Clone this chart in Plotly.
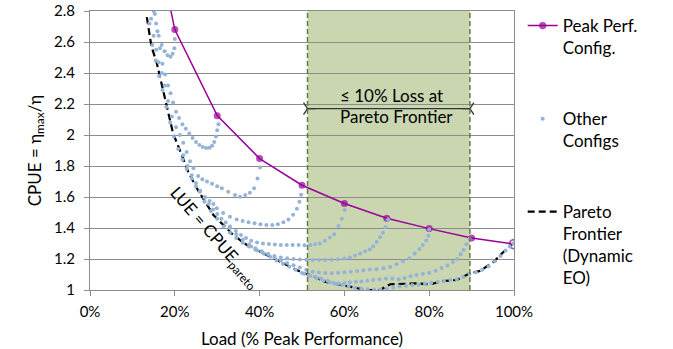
import plotly.graph_objects as go

# ---------------- data ----------------
tick_vals = [0, 20, 40, 60, 80, 100]
tick_text = ["0%", "20%", "40%", "60%", "80%", "100%"]

peak_x = [10, 20, 30, 40, 50, 60, 70, 80, 90, 100]
peak_y = [4.0, 2.68, 2.125, 1.848, 1.676, 1.558, 1.463, 1.396, 1.335, 1.296]

pareto_x = [13.4, 14.5, 15.7, 17.7, 19.6, 21.8, 23.2, 25.2, 29.1, 33.8, 37.0, 41.7,
            46.4, 50.3, 51.9, 55.4, 59.7, 65.2, 68.4, 70.8, 77.0, 80.2, 83.3, 86.5,
            89.6, 92.0, 95.1, 97.5, 99.8]
pareto_y = [2.76, 2.57, 2.47, 2.226, 2.01, 1.86, 1.76, 1.656, 1.484, 1.355, 1.29, 1.226,
            1.161, 1.108, 1.097, 1.054, 1.03, 1.0, 1.0, 1.037, 1.043, 1.037, 1.058, 1.065,
            1.108, 1.123, 1.18, 1.245, 1.30]

c1_x = [15.0, 15.6, 16.2, 16.9, 17.6, 18.3, 19.0, 19.5, 19.9, 20.0]
c1_y = [2.80, 2.72, 2.64, 2.58, 2.54, 2.515, 2.505, 2.525, 2.56, 2.62]

c2_x = [15.3, 15.9, 16.5, 17.1, 17.7, 18.4, 19.0, 19.6, 20.3, 21.0, 21.8, 22.6, 23.4,
        24.2, 25.0, 25.8, 26.6, 27.4, 28.2, 28.8, 29.3, 29.7, 30.0, 30.3]
c2_y = [2.78, 2.67, 2.56, 2.46, 2.39, 2.32, 2.27, 2.21, 2.15, 2.11, 2.07, 2.04, 2.01,
        1.98, 1.955, 1.935, 1.922, 1.916, 1.918, 1.93, 1.955, 1.99, 2.03, 2.07]

c3_x = [14.4, 15.0, 15.6, 16.2, 16.9, 17.6, 18.4, 19.3, 20.3, 21.2, 22.0, 22.8, 23.6,
        24.4, 25.5, 26.5, 27.6, 28.8, 30.0, 31.1, 32.6, 34.2, 35.4, 36.6, 37.7, 38.7,
        39.5, 40.1]
c3_y = [2.75, 2.64, 2.55, 2.47, 2.40, 2.32, 2.22, 2.12, 2.05, 2.00, 1.95, 1.89, 1.83,
        1.785, 1.735, 1.715, 1.70, 1.685, 1.67, 1.656, 1.634, 1.613, 1.602, 1.613, 1.628,
        1.656, 1.72, 1.79]

c4_x = [14.0, 14.7, 15.5, 16.3, 17.1, 18.0, 18.9, 19.8, 20.8, 21.8, 22.8, 24.0, 25.0,
        25.9, 27.1, 28.2, 29.1, 29.9, 31.4, 33.0, 34.6, 36.0, 37.4, 38.8, 40.2, 41.6,
        43.0, 44.3, 45.6, 46.8, 47.9, 48.8, 49.4, 49.8]
c4_y = [2.72, 2.58, 2.48, 2.38, 2.29, 2.18, 2.08, 1.99, 1.91, 1.84, 1.78, 1.72, 1.67,
        1.634, 1.60, 1.575, 1.555, 1.527, 1.497, 1.473, 1.455, 1.445, 1.437, 1.43, 1.424,
        1.42, 1.42, 1.425, 1.437, 1.455, 1.485, 1.525, 1.57, 1.615]

c5_x = [22.0, 23.0, 24.0, 25.0, 26.0, 27.0, 28.0, 29.0, 30.0, 31.0, 32.0, 33.0, 34.4,
        35.6, 36.8, 38.0, 39.4, 40.8, 42.2, 43.6, 45.0, 46.4, 47.8, 49.2, 50.6, 52.0,
        53.1, 54.2, 55.4, 56.6, 57.6, 58.6, 59.4, 60.1]
c5_y = [1.87, 1.80, 1.74, 1.69, 1.64, 1.595, 1.555, 1.52, 1.49, 1.46, 1.435, 1.41, 1.38,
        1.355, 1.335, 1.318, 1.306, 1.30, 1.296, 1.293, 1.291, 1.29, 1.29, 1.29, 1.289,
        1.29, 1.295, 1.30, 1.318, 1.338, 1.36, 1.413, 1.46, 1.516]

c6_x = [27.0, 28.5, 30.0, 31.5, 33.0, 34.5, 36.0, 37.5, 39.0, 40.5, 42.0, 43.5, 45.0,
        46.5, 48.0, 49.5, 51.0, 52.5, 54.0, 55.5, 57.0, 58.5, 60.0, 61.3, 62.5, 63.7,
        64.9, 66.0, 66.8, 67.6, 68.4, 69.1, 69.7, 70.3]
c6_y = [1.57, 1.51, 1.46, 1.41, 1.37, 1.335, 1.305, 1.28, 1.26, 1.245, 1.232, 1.22, 1.21,
        1.205, 1.20, 1.197, 1.195, 1.194, 1.194, 1.194, 1.195, 1.198, 1.203, 1.21, 1.222,
        1.236, 1.25, 1.262, 1.28, 1.31, 1.34, 1.37, 1.405, 1.455]

c7_x = [33.0, 34.5, 36.0, 37.5, 39.0, 40.5, 42.0, 43.5, 45.0, 46.5, 48.0, 49.5, 51.0,
        52.5, 54.0, 55.5, 57.0, 58.5, 60.0, 61.5, 63.0, 64.5, 66.0, 67.6, 69.2, 70.8,
        72.3, 73.8, 75.3, 76.6, 77.7, 78.5, 79.3, 79.8, 80.0]
c7_y = [1.40, 1.36, 1.325, 1.295, 1.27, 1.25, 1.23, 1.21, 1.19, 1.175, 1.16, 1.145, 1.13,
        1.118, 1.113, 1.11, 1.108, 1.112, 1.115, 1.118, 1.122, 1.127, 1.132, 1.134, 1.14,
        1.148, 1.166, 1.185, 1.205, 1.235, 1.265, 1.29, 1.32, 1.35, 1.39]

c8_x = [38.0, 39.5, 41.0, 42.5, 44.0, 45.5, 47.0, 48.5, 50.0, 51.5, 53.1, 54.5, 56.0,
        57.4, 58.7, 60.0, 61.3, 62.7, 64.0, 65.4, 66.8, 68.3, 69.8, 71.3, 72.8, 74.2,
        75.6, 77.0, 78.5, 80.0, 81.5, 82.9, 84.3, 85.6, 86.6, 87.4, 88.1, 88.8, 89.5]
c8_y = [1.28, 1.255, 1.235, 1.215, 1.19, 1.17, 1.15, 1.13, 1.11, 1.095, 1.085, 1.075,
        1.06, 1.045, 1.042, 1.045, 1.05, 1.054, 1.055, 1.06, 1.065, 1.07, 1.074, 1.074,
        1.07, 1.078, 1.088, 1.097, 1.105, 1.112, 1.125, 1.142, 1.158, 1.18, 1.20, 1.23,
        1.26, 1.295, 1.33]

c9_x = [50.5, 52.0, 53.5, 55.0, 56.5, 58.0, 59.5, 61.0, 62.5, 64.0, 65.5, 67.0, 68.5,
        70.0, 71.5, 73.0, 74.5, 76.0, 77.5, 79.0, 80.5, 82.0, 83.5, 85.0, 86.5, 88.0,
        89.5, 91.0, 92.5, 94.0, 95.5, 96.8, 98.0, 99.0, 99.8]
c9_y = [1.105, 1.09, 1.075, 1.062, 1.05, 1.04, 1.032, 1.022, 1.015, 1.01, 1.005, 1.003,
        1.004, 1.007, 1.015, 1.022, 1.028, 1.032, 1.034, 1.04, 1.046, 1.054, 1.058, 1.064,
        1.07, 1.084, 1.103, 1.115, 1.13, 1.153, 1.185, 1.22, 1.255, 1.28, 1.30]

band_lo, band_hi = 51.3, 89.6
arrow_y = 2.17

# ---------------- figure ----------------
FONT = "Lato"
PURPLE = "#990099"
BLUE = "#95B3D7"
GRID = "#8c8c8c"

others_x = c1_x + c2_x + c3_x + c4_x + c5_x + c6_x + c7_x + c8_x + c9_x
others_y = c1_y + c2_y + c3_y + c4_y + c5_y + c6_y + c7_y + c8_y + c9_y

fig = go.Figure()

n = len(peak_x)
fig.add_trace(go.Scatter(
    x=peak_x, y=peak_y, mode="lines+markers", name="Peak Perf.<br>Config.",
    line=dict(color=PURPLE, width=1.5),
    marker=dict(color=[PURPLE] * (n - 1) + ["rgba(0,0,0,0)"],
                size=[7] * (n - 1) + [9],
                line=dict(color=PURPLE, width=[0] * (n - 1) + [1.8])),
    legend="legend"))

fig.add_trace(go.Scatter(
    x=pareto_x, y=pareto_y, mode="lines", name="Pareto<br>Frontier<br>(Dynamic<br>EO)",
    line=dict(color="black", width=2.2, dash="7px,4px"),
    legend="legend3"))

fig.add_trace(go.Scatter(
    x=others_x, y=others_y, mode="markers", name="Other<br>Configs",
    marker=dict(color=BLUE, size=4, symbol="circle"),
    legend="legend2"))

# double-headed arrow across the band
fig.add_trace(go.Scatter(
    x=[band_lo, band_hi], y=[arrow_y, arrow_y], mode="lines+markers",
    line=dict(color="#333333", width=1.3),
    marker=dict(symbol=["y-right", "y-left"], size=10,
                line=dict(color="#333333", width=1.3)),
    showlegend=False, hoverinfo="skip"))

fig.add_shape(type="rect", xref="x", yref="y", x0=band_lo, x1=band_hi, y0=1, y1=2.8,
              fillcolor="#c9d6b0", line=dict(width=0), layer="below")
for xv in (band_lo, band_hi):
    fig.add_shape(type="line", xref="x", yref="y", x0=xv, x1=xv, y0=1, y1=2.8,
                  line=dict(color="#66773f", width=1.5, dash="5px,3px"), layer="above")

fig.add_annotation(x=58.5, y=2.254, xref="x", yref="y", text="≤ 10% Loss at",
                   showarrow=False, xanchor="left", yanchor="middle",
                   font=dict(family=FONT, size=17, color="black"))
fig.add_annotation(x=58.5, y=2.118, xref="x", yref="y", text="Pareto Frontier",
                   showarrow=False, xanchor="left", yanchor="middle",
                   font=dict(family=FONT, size=17, color="black"))
fig.add_annotation(x=29.4, y=1.335, xref="x", yref="y",
                   text="LUE = CPUE<sub>pareto</sub>", showarrow=False, textangle=49,
                   font=dict(family=FONT, size=17, color="black"))

legend_common = dict(xanchor="left", yanchor="top", valign="top",
                     font=dict(family=FONT, size=17, color="black"),
                     bgcolor="rgba(0,0,0,0)", itemwidth=30, borderwidth=0)

fig.update_layout(
    width=673, height=349,
    margin=dict(l=90, r=159, t=11, b=59, autoexpand=False),
    paper_bgcolor="white", plot_bgcolor="white",
    font=dict(family=FONT, size=15, color="black"),
    showlegend=True,
    legend=dict(x=1.0205, y=1.0108, **legend_common),
    legend2=dict(x=1.0205, y=0.677, **legend_common),
    legend3=dict(x=1.0205, y=0.344, **legend_common),
)
fig.update_xaxes(range=[0, 100], tickvals=tick_vals, ticktext=tick_text,
                 showgrid=False, zeroline=False, showline=True, linecolor=GRID,
                 linewidth=1, mirror=True, ticks="outside", ticklen=5, tickcolor=GRID,
                 ticklabelstandoff=3, automargin=False, ticklabeloverflow="allow",
                 tickfont=dict(family=FONT, size=15),
                 title=dict(text="Load (% Peak Performance)", font=dict(family=FONT, size=17),
                            standoff=14))
fig.update_yaxes(range=[1, 2.8], dtick=0.2, tick0=1, showgrid=True, gridcolor=GRID,
                 gridwidth=1, zeroline=False, showline=True, linecolor=GRID, linewidth=1,
                 mirror=True, ticks="outside", ticklen=5, tickcolor=GRID,
                 ticklabelstandoff=6, automargin=False, ticklabeloverflow="allow",
                 tickfont=dict(family=FONT, size=15),
                 title=dict(text="CPUE = η<sub>max</sub>/η", font=dict(family=FONT, size=17),
                            standoff=8))

# remove the page's default body margin so the figure sits at the window's corner
fig.write_html("out.html", config={"displayModeBar": False},
               post_script="document.body.style.margin='0';")
